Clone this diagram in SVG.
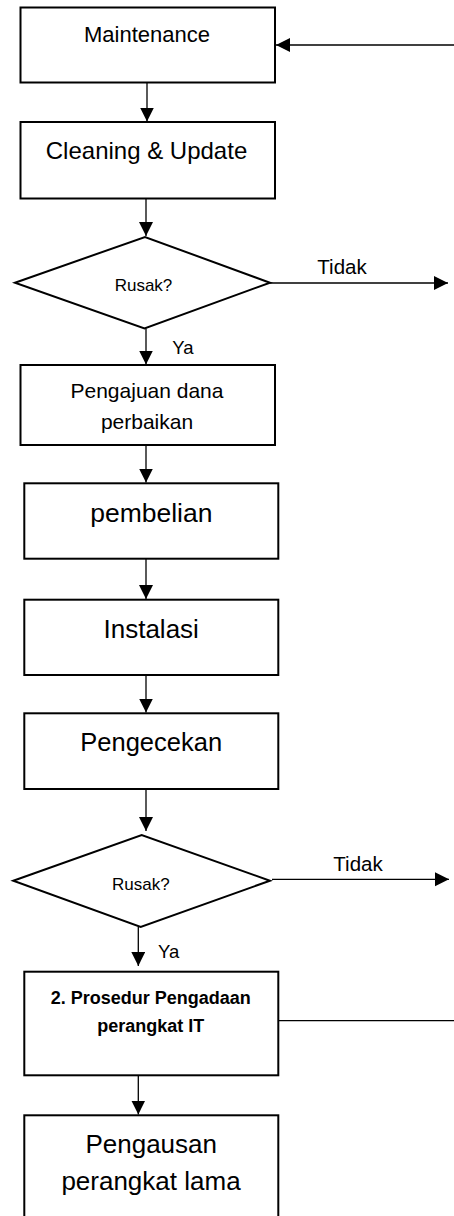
<svg xmlns="http://www.w3.org/2000/svg" width="454" height="1216" viewBox="0 0 454 1216">
<style>
.box{fill:#fff;stroke:#000;stroke-width:2}
.con{fill:none;stroke:#000;stroke-width:1.3}
text{font-family:"Liberation Sans",Arial,sans-serif;fill:#000;text-anchor:middle}
.b{font-weight:bold}
</style>
<defs>
<marker id="ah" markerUnits="userSpaceOnUse" markerWidth="16" markerHeight="16" refX="14" refY="7" orient="auto">
<path d="M0,0 L14,7 L0,14 Z" fill="#000"/>
</marker>
</defs>
<rect width="454" height="1216" fill="#fff"/>
<g id="connectors">
<line class="con" x1="454" y1="45" x2="276" y2="45" marker-end="url(#ah)"/>
<line class="con" x1="147" y1="82.5" x2="147" y2="121.5" marker-end="url(#ah)"/>
<line class="con" x1="146" y1="199" x2="146" y2="236" marker-end="url(#ah)"/>
<line class="con" x1="270" y1="283" x2="448" y2="283" marker-end="url(#ah)"/>
<line class="con" x1="146" y1="328.5" x2="146" y2="364.5" marker-end="url(#ah)"/>
<line class="con" x1="146" y1="445" x2="146" y2="482.5" marker-end="url(#ah)"/>
<line class="con" x1="146" y1="559" x2="146" y2="599" marker-end="url(#ah)"/>
<line class="con" x1="146" y1="675" x2="146" y2="712.5" marker-end="url(#ah)"/>
<line class="con" x1="146" y1="789" x2="146" y2="831" marker-end="url(#ah)"/>
<line class="con" x1="272" y1="879.3" x2="449" y2="879.3" marker-end="url(#ah)"/>
<line class="con" x1="138.3" y1="927" x2="138.3" y2="966" marker-end="url(#ah)"/>
<line class="con" x1="278.3" y1="1020.7" x2="454" y2="1020.7"/>
<line class="con" x1="138.3" y1="1075.3" x2="138.3" y2="1114.5" marker-end="url(#ah)"/>
<text x="342" y="274" font-size="20.5">Tidak</text>
<text x="183" y="354" font-size="18.5">Ya</text>
<text x="358" y="870.7" font-size="20.5">Tidak</text>
<text x="168.7" y="958.3" font-size="18.5">Ya</text>
</g>
<g id="n1"><rect class="box" x="20.5" y="7.5" width="254.5" height="75"/><text x="147" y="42.3" font-size="22">Maintenance</text></g>
<g id="n2"><rect class="box" x="20.5" y="122" width="254.5" height="76.5"/><text x="146.5" y="159" font-size="24">Cleaning &amp; Update</text></g>
<g id="n3"><polygon class="box" points="15,282.7 145,237 270,282.7 144.5,328.5"/><text x="143.5" y="291" font-size="17">Rusak?</text></g>
<g id="n4"><rect class="box" x="20.5" y="365" width="254.5" height="80"/><text x="147" y="397.5" font-size="21">Pengajuan dana</text><text x="147" y="428.5" font-size="21">perbaikan</text></g>
<g id="n5"><rect class="box" x="24.3" y="483.3" width="254" height="75.4"/><text x="151.3" y="521.7" font-size="26.5">pembelian</text></g>
<g id="n6"><rect class="box" x="24.3" y="599.7" width="254" height="75.3"/><text x="151.2" y="637.7" font-size="26">Instalasi</text></g>
<g id="n7"><rect class="box" x="24.3" y="713.3" width="254" height="75.7"/><text x="151.2" y="751" font-size="25.5">Pengecekan</text></g>
<g id="n8"><polygon class="box" points="13.3,880.7 141.7,835 270,880.7 140.7,927"/><text x="140.8" y="890" font-size="17">Rusak?</text></g>
<g id="n9"><rect class="box" x="24.3" y="971.7" width="254" height="103.6"/><text class="b" x="150.8" y="1004.3" font-size="18">2. Prosedur Pengadaan</text><text class="b" x="150.8" y="1031.7" font-size="18">perangkat IT</text></g>
<g id="n10"><rect class="box" x="24.3" y="1115.3" width="254" height="130"/><text x="151.2" y="1153.3" font-size="26">Pengausan</text><text x="151" y="1190" font-size="26">perangkat lama</text></g>
</svg>
